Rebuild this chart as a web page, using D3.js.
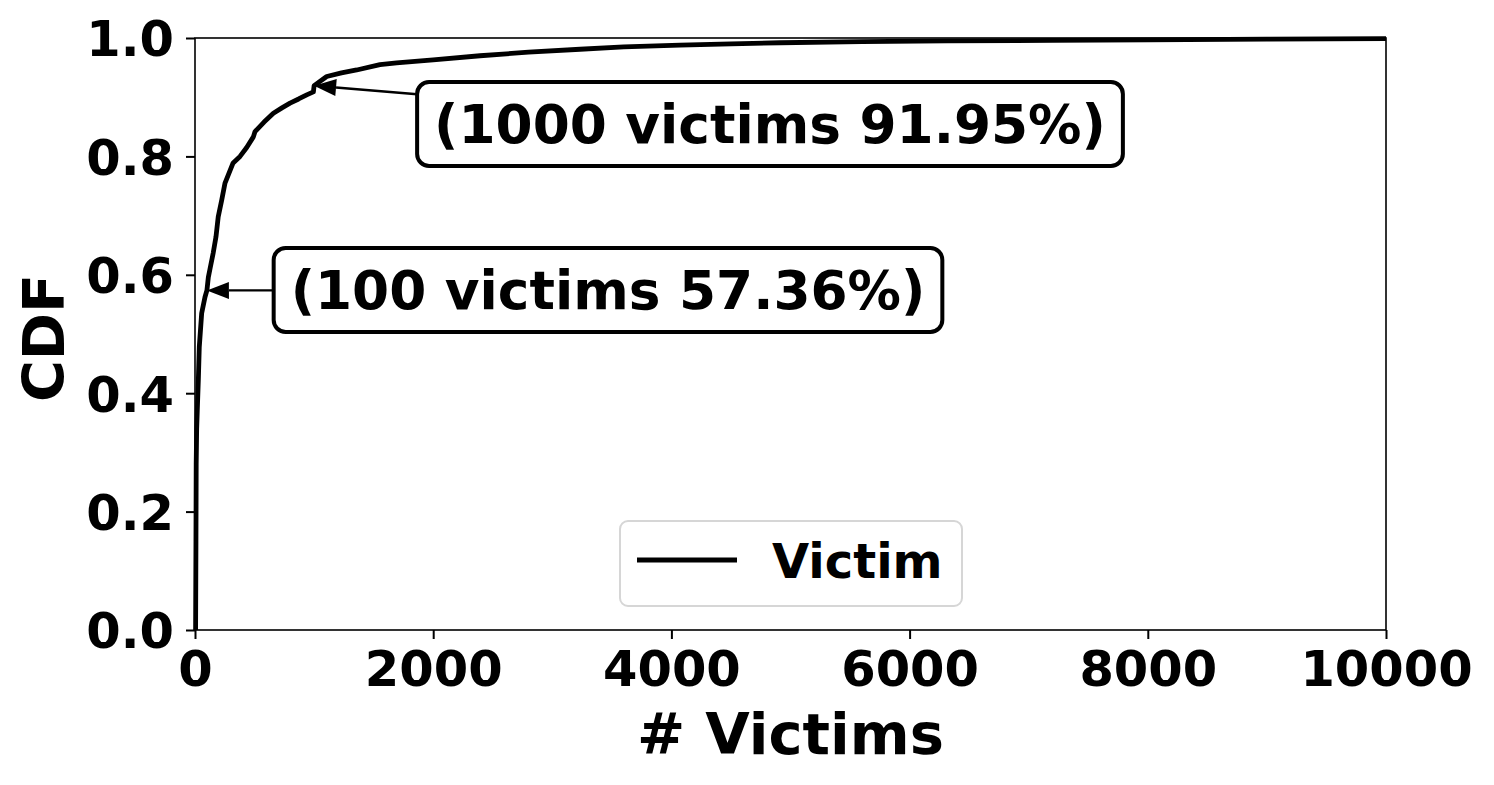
<!DOCTYPE html>
<html>
<head>
<meta charset="utf-8">
<script src="https://cdn.jsdelivr.net/npm/d3@7"></script>
<style>
	body { margin: 0; background: #fff; }
	svg { display: block; font-family: "DejaVu Sans", sans-serif; font-weight: bold; }
</style>
</head>
<body>
<svg id="chart" width="1494" height="785"></svg>
<script>
// data
const victims = [5, 8, 10, 14, 19, 28, 36, 56, 84, 100, 112, 126, 153, 176, 195, 224, 252, 320, 378, 434, 490, 504, 580, 658, 730, 798, 870, 938, 994, 1000, 1106, 1230, 1358, 1553, 1693, 2000, 2393, 2800, 3233, 3600, 4072, 4500, 4912, 5600, 6314, 7200, 8000, 9000, 10000];
const cdf = [0, 0.15, 0.28, 0.34, 0.37, 0.422, 0.478, 0.535, 0.5625, 0.5736, 0.596, 0.61, 0.637, 0.664, 0.698, 0.726, 0.755, 0.789, 0.800, 0.815, 0.833, 0.842, 0.858, 0.873, 0.882, 0.890, 0.897, 0.904, 0.909, 0.9195, 0.935, 0.941, 0.946, 0.955, 0.958, 0.963, 0.970, 0.976, 0.981, 0.985, 0.988, 0.990, 0.992, 0.994, 0.995, 0.996, 0.997, 0.998, 0.999];
const xTicks = [0, 2000, 4000, 6000, 8000, 10000];
const yTicks = [0, 0.2, 0.4, 0.6, 0.8, 1.0];
const notes = [
	{ x: 100, y: 0.5736, text: '(100 victims 57.36%)', tx: 608, ty: 290 },
	{ x: 1000, y: 0.9195, text: '(1000 victims 91.95%)', tx: 770, ty: 124 }
];
const seriesName = 'Victim';

const svg = d3.select('#chart');
const plotLeft = 195, plotRight = 1386, plotTop = 38, plotBottom = 630;

const x = d3.scaleLinear().domain([0, 10000]).range([plotLeft, plotRight]);
const y = d3.scaleLinear().domain([0, 1]).range([plotBottom, plotTop]);

// axes
const xAxis = svg.append('g')
	.attr('transform', 'translate(0,' + plotBottom + ')')
	.call(d3.axisBottom(x).tickValues(xTicks).tickSize(9).tickPadding(12).tickFormat(d3.format('d')));
const yAxis = svg.append('g')
	.attr('transform', 'translate(' + plotLeft + ',0)')
	.call(d3.axisLeft(y).tickValues(yTicks).tickSize(9).tickPadding(12).tickFormat(d3.format('.1f')));

[xAxis, yAxis].forEach(function(g) {
	g.select('.domain').remove();
	g.selectAll('.tick line').attr('stroke', '#000').attr('stroke-width', 2);
	g.selectAll('.tick text')
		.attr('fill', '#000')
		.style('font-family', '"DejaVu Sans", sans-serif')
		.style('font-weight', 'bold')
		.style('font-size', '49.5px');
});
xAxis.selectAll('.tick text').attr('dy', '0.71em');
yAxis.selectAll('.tick text').attr('dy', '0.36em');

// curve
const points = victims.map(function(v, i) { return [v, cdf[i]]; });
svg.append('path')
	.datum(points)
	.attr('fill', 'none')
	.attr('stroke', '#000')
	.attr('stroke-width', 4.8)
	.attr('stroke-linejoin', 'round')
	.attr('d', d3.line().x(d => x(d[0])).y(d => y(d[1])));

// frame
svg.append('rect')
	.attr('x', plotLeft).attr('y', plotTop)
	.attr('width', plotRight - plotLeft).attr('height', plotBottom - plotTop)
	.attr('fill', 'none').attr('stroke', '#000').attr('stroke-width', 1.6);

// axis labels
svg.append('text')
	.attr('x', (plotLeft + plotRight) / 2).attr('y', 754)
	.attr('text-anchor', 'middle')
	.style('font-size', '57.5px')
	.text('# Victims');
svg.append('text')
	.attr('transform', 'translate(64,338) rotate(-90)')
	.attr('text-anchor', 'middle')
	.style('font-size', '57px')
	.text('CDF');

// annotations
notes.forEach(function(n) {
	const g = svg.append('g');
	const t = g.append('text')
		.attr('x', n.tx).attr('y', n.ty)
		.attr('text-anchor', 'middle')
		.attr('dy', '0.36em')
		.style('font-size', '53.3px')
		.text(n.text);
	const w = t.node().getComputedTextLength();
	const padX = 17, h = 84;
	const bx = n.tx - w / 2 - padX;
	const by = n.ty - h / 2;
	g.insert('rect', 'text')
		.attr('x', bx).attr('y', by)
		.attr('width', w + padX * 2).attr('height', h)
		.attr('rx', 12).attr('ry', 12)
		.attr('fill', '#fff').attr('stroke', '#000').attr('stroke-width', 4);

	// arrow from text centre to point, clipped at the box edge
	const px = x(n.x), py = y(n.y);
	const dx = px - n.tx, dy = py - n.ty;
	const sx = bx, sy = n.ty + dy * (bx - n.tx) / dx;
	const len = Math.hypot(px - sx, py - sy);
	const ux = (px - sx) / len, uy = (py - sy) / len;
	const headL = 22, headW = 8.5;
	const baseX = px - ux * headL, baseY = py - uy * headL;
	svg.append('line')
		.attr('x1', sx).attr('y1', sy).attr('x2', baseX).attr('y2', baseY)
		.attr('stroke', '#000').attr('stroke-width', 2.4);
	svg.append('path')
		.attr('d', 'M' + px + ',' + py +
			'L' + (baseX - uy * headW) + ',' + (baseY + ux * headW) +
			'L' + (baseX + uy * headW) + ',' + (baseY - ux * headW) + 'Z')
		.attr('fill', '#000');
});

// legend
const legend = svg.append('g');
legend.append('rect')
	.attr('x', 620).attr('y', 521).attr('width', 342).attr('height', 85)
	.attr('rx', 8).attr('ry', 8)
	.attr('fill', '#fff').attr('stroke', '#d6d6d6').attr('stroke-width', 2);
legend.append('line')
	.attr('x1', 637).attr('x2', 737).attr('y1', 560).attr('y2', 560)
	.attr('stroke', '#000').attr('stroke-width', 4.8);
legend.append('text')
	.attr('x', 772).attr('y', 578)
	.style('font-size', '48px')
	.text(seriesName);
</script>
</body>
</html>
